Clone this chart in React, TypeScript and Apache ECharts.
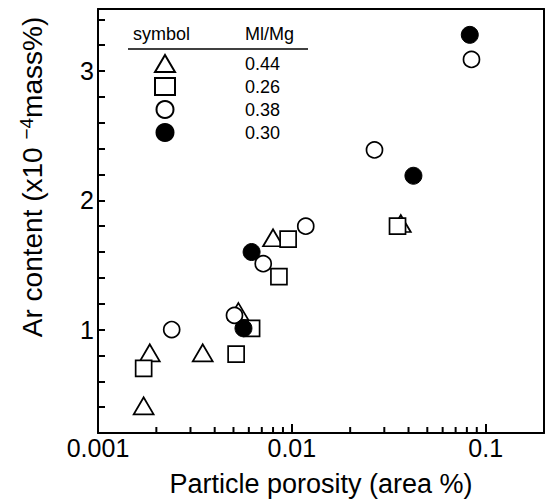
import React, { useEffect, useRef } from "react";
import * as echarts from "echarts";

const FONT = "'Liberation Sans', Arial, Helvetica, sans-serif";

// Legend / series names (Ml/Mg ratio)
const seriesNames = ["0.44", "0.26", "0.38", "0.30"];

// Triangles (Ml/Mg = 0.44)
const triX = [0.00172, 0.00185, 0.00347, 0.0053, 0.008, 0.0365];
const triY = [0.41, 0.82, 0.82, 1.14, 1.71, 1.82];

// Squares (Ml/Mg = 0.26)
const sqX = [0.00172, 0.00516, 0.0062, 0.00858, 0.00957, 0.0351];
const sqY = [0.7, 0.81, 1.01, 1.41, 1.7, 1.8];

// Open circles (Ml/Mg = 0.38)
const ocX = [0.0024, 0.00506, 0.00712, 0.0118, 0.0267, 0.0845];
const ocY = [1.0, 1.11, 1.51, 1.8, 2.39, 3.09];

// Filled circles (Ml/Mg = 0.30)
const fcX = [0.00563, 0.0062, 0.0424, 0.0828];
const fcY = [1.01, 1.6, 2.19, 3.28];

// Axis ticks
const xTickValues = [0.001, 0.01, 0.1];
const xTickLabels = ["0.001", "0.01", "0.1"];
const xMinorTicks = [
  0.002, 0.003, 0.004, 0.005, 0.006, 0.007, 0.008, 0.009,
  0.02, 0.03, 0.04, 0.05, 0.06, 0.07, 0.08, 0.09,
];
const yTickLabels = ["1", "2", "3"];

const X_MIN = 0.001;
const X_MAX = 0.2;
const Y_MIN = 0.2;
const Y_MAX = 3.48;

function zip(xs: number[], ys: number[]) {
  return xs.map((x, i) => [x, ys[i]]);
}

export default function App() {
  const ref = useRef<HTMLDivElement>(null);

  useEffect(() => {
    if (!ref.current) return;
    const chart = echarts.init(ref.current, null, { renderer: "svg", width: 549, height: 499 });

    const openStyle = { color: "#fff", borderColor: "#000", borderWidth: 1.7, opacity: 1 };
    const axisLineStyle = { color: "#000", width: 2 };

    const option: any = {
      animation: false,
      backgroundColor: "#fff",
      textStyle: { fontFamily: FONT, color: "#000" },
      grid: {
        left: 98,
        right: 5,
        top: 9,
        bottom: 66,
        containLabel: false,
        outerBoundsMode: "none",
        show: false,
      },
      legend: {
        data: seriesNames,
        orient: "vertical",
        left: 149,
        top: 49,
        itemWidth: 20,
        itemHeight: 17,
        itemGap: 4,
        selectedMode: false,
        textStyle: {
          fontFamily: FONT,
          fontSize: 18,
          lineHeight: 17,
          color: "#000",
          padding: [0, 0, 0, 65],
        },
      },
      graphic: [
        {
          type: "text",
          left: 133,
          top: 25,
          style: { text: "symbol", font: `18px ${FONT}`, fill: "#000" },
        },
        {
          type: "text",
          left: 245,
          top: 25,
          style: { text: "Ml/Mg", font: `18px ${FONT}`, fill: "#000" },
        },
        {
          type: "line",
          shape: { x1: 128, y1: 49, x2: 308, y2: 49 },
          style: { stroke: "#000", lineWidth: 1.5 },
        },
      ],
      xAxis: [
        {
          type: "log",
          logBase: 10,
          min: X_MIN,
          max: X_MAX,
          position: "bottom",
          name: "Particle porosity (area %)",
          nameLocation: "middle",
          nameGap: 37,
          nameTextStyle: { fontFamily: FONT, fontSize: 27, color: "#000" },
          axisLine: { show: true, onZero: false, lineStyle: axisLineStyle },
          axisTick: { show: true, inside: true, length: 9, lineStyle: { color: "#000", width: 2 } },
          axisLabel: {
            show: true,
            fontFamily: FONT,
            fontSize: 25,
            color: "#000",
            margin: 2,
            showMaxLabel: false,
            formatter: (v: number) => {
              const i = xTickValues.findIndex((t) => Math.abs(Math.log10(v) - Math.log10(t)) < 1e-6);
              return i >= 0 ? xTickLabels[i] : "";
            },
          },
          splitLine: { show: false },
        },
        {
          type: "log",
          logBase: 10,
          min: X_MIN,
          max: X_MAX,
          position: "top",
          axisLine: { show: true, onZero: false, lineStyle: axisLineStyle },
          axisTick: { show: false },
          axisLabel: { show: false },
          splitLine: { show: false },
        },
      ],
      yAxis: [
        {
          type: "value",
          min: Y_MIN,
          max: Y_MAX,
          interval: 0.2,
          position: "left",
          name: "{a|Ar content (x10 }{s|−4}{a|mass%)}",
          nameLocation: "middle",
          nameGap: 50,
          nameTextStyle: {
            fontFamily: FONT,
            color: "#000",
            padding: [0, 0, 0, 88],
            rich: {
              a: { fontFamily: FONT, fontSize: 28, color: "#000" },
              s: { fontFamily: FONT, fontSize: 19, color: "#000", verticalAlign: "top", padding: [0, 0, 12, 0] },
            },
          },
          axisLine: { show: true, onZero: false, lineStyle: axisLineStyle },
          axisTick: { show: true, inside: true, length: 7, lineStyle: { color: "#000", width: 2 } },
          axisLabel: {
            show: true,
            fontFamily: FONT,
            fontSize: 25,
            color: "#000",
            margin: 4,
            showMaxLabel: false,
            formatter: (v: number) => {
              const r = Math.round(v);
              return Math.abs(v - r) < 1e-6 && yTickLabels.includes(String(r)) ? String(r) : "";
            },
          },
          splitLine: { show: false },
        },
        {
          type: "value",
          min: Y_MIN,
          max: Y_MAX,
          interval: 0.2,
          position: "right",
          axisLine: { show: true, onZero: false, lineStyle: axisLineStyle },
          axisTick: { show: false },
          axisLabel: { show: false },
          splitLine: { show: false },
        },
      ],
      series: [
        {
          name: "minorTicks",
          type: "custom",
          silent: true,
          clip: false,
          z: 6,
          data: xMinorTicks.map((x) => [x, Y_MIN]),
          renderItem: (params: any, api: any) => {
            const p = api.coord([api.value(0), api.value(1)]);
            return {
              type: "line",
              shape: { x1: p[0], y1: p[1], x2: p[0], y2: p[1] - 6 },
              style: { stroke: "#000", lineWidth: 2 },
            };
          },
        },
        {
          name: seriesNames[0],
          type: "scatter",
          data: zip(triX, triY),
          symbol: "triangle",
          symbolSize: [20, 17],
          itemStyle: openStyle,
          z: 2,
        },
        {
          name: seriesNames[1],
          type: "scatter",
          data: zip(sqX, sqY),
          symbol: "rect",
          symbolSize: 16,
          itemStyle: openStyle,
          z: 3,
        },
        {
          name: seriesNames[2],
          type: "scatter",
          data: zip(ocX, ocY),
          symbol: "circle",
          symbolSize: 16,
          itemStyle: openStyle,
          z: 4,
        },
        {
          name: seriesNames[3],
          type: "scatter",
          data: zip(fcX, fcY),
          symbol: "circle",
          symbolSize: 17,
          itemStyle: { color: "#000", borderColor: "#000", borderWidth: 1, opacity: 1 },
          z: 5,
        },
      ],
    };

    chart.setOption(option);
    return () => chart.dispose();
  }, []);

  return (
    <div
      ref={ref}
      style={{ position: "fixed", left: 0, top: 0, width: 549, height: 499, background: "#fff" }}
    />
  );
}
